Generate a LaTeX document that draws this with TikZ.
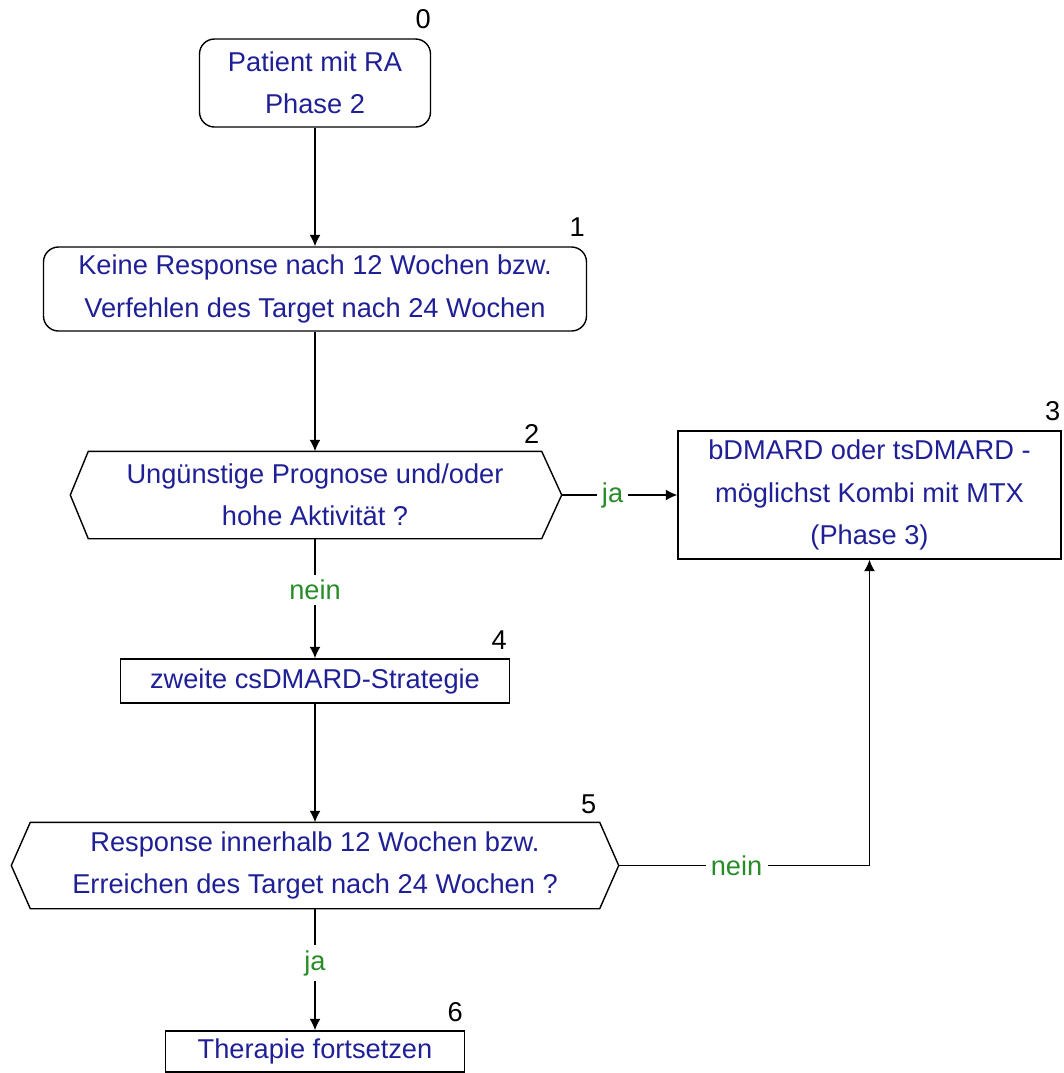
\documentclass[tikz,border=0pt]{standalone}
\usepackage{fontspec}
\setmainfont{Liberation Sans}
\usetikzlibrary{arrows.meta,calc}
\definecolor{txtblue}{RGB}{32,32,150}
\definecolor{labgreen}{RGB}{40,140,40}
\def\px{0.02cm}
\begin{document}
\begin{tikzpicture}[x=0.02cm,y=-0.02cm,
  txt/.style={font=\fontsize{15.5}{24}\selectfont},
  box/.style={txt, draw=black, line width=0.8pt, fill=white, text=txtblue, align=center, inner sep=0pt},
  rbox/.style={box, rounded corners=15*\px},
  hexbox/.style={box, draw=none, fill=none},
  hexline/.style={draw=black, line width=0.8pt, line join=miter},
  conn/.style={line width=0.8pt, -{Latex[length=0.23cm,width=0.22cm]}},
  lab/.style={txt, text=labgreen, fill=white, inner sep=3pt},
  num/.style={txt, text=black, inner sep=0pt}]
\useasboundingbox (0,0) rectangle (1064,1073);
\fill[white] (0,0) rectangle (1064,1073);

% nodes
\node[rbox, minimum width=231*\px, minimum height=88*\px] (n0) at (315,83) {Patient mit RA\\Phase 2};
\node[rbox, minimum width=543*\px, minimum height=84*\px] (n1) at (315,289) {Keine Response nach 12 Wochen bzw.\\Verfehlen des Target nach 24 Wochen};
\node[hexbox, minimum width=452*\px, minimum height=86*\px] (n2) at (315,495) {Ungünstige Prognose und/oder\\hohe Aktivität ?};
\coordinate (n2l) at ($(n2.west)+(-18,0)$);
\coordinate (n2r) at ($(n2.east)+(20,0)$);
\draw[hexline] (n2.north west) -- (n2.north east) -- (n2r) -- (n2.south east) -- (n2.south west) -- (n2l) -- cycle;
\node[box, minimum width=383*\px, minimum height=128*\px] (n3) at (869.5,495) {bDMARD oder tsDMARD -\\möglichst Kombi mit MTX\\(Phase 3)};
\node[box, minimum width=389*\px, minimum height=44*\px] (n4) at (315,681) {zweite csDMARD-Strategie};
\node[hexbox, minimum width=568*\px, minimum height=85*\px] (n5) at (315,865.5) {Response innerhalb 12 Wochen bzw.\\Erreichen des Target nach 24 Wochen ?};
\coordinate (n5l) at ($(n5.west)+(-19,0)$);
\coordinate (n5r) at ($(n5.east)+(19,0)$);
\draw[hexline] (n5.north west) -- (n5.north east) -- (n5r) -- (n5.south east) -- (n5.south west) -- (n5l) -- cycle;
\node[box, minimum width=299*\px, minimum height=41*\px] (n6) at (315,1051.5) {Therapie fortsetzen};

% numbers
\node[num] (k0) at ($(n0.north east)+(-8,-19)$) {0};
\node[num] (k1) at ($(n1.north east)+(-10,-19)$) {1};
\node[num] (k2) at ($(n2.north east)+(-10,-17)$) {2};
\node[num] (k3) at ($(n3.north east)+(-9,-19)$) {3};
\node[num] (k4) at ($(n4.north east)+(-11,-18)$) {4};
\node[num] (k5) at ($(n5.north east)+(-11,-18)$) {5};
\node[num] (k6) at ($(n6.north east)+(-10,-18)$) {6};

% connectors
\draw[conn] (n0.south) -- (n1.north);
\draw[conn] (n1.south) -- (n2.north);
\draw[conn] (n2r) -- node[lab, pos=0.44] {ja} (n3.west);
\draw[conn] (n2.south) -- node[lab, pos=0.43] {nein} (n4.north);
\draw[conn] (n4.south) -- (n5.north);
\draw[conn] (n5r) -| node[lab, pos=0.235] {nein} (n3.south);
\draw[conn] (n5.south) -- node[lab, pos=0.45] {ja} (n6.north);
\end{tikzpicture}
\end{document}
